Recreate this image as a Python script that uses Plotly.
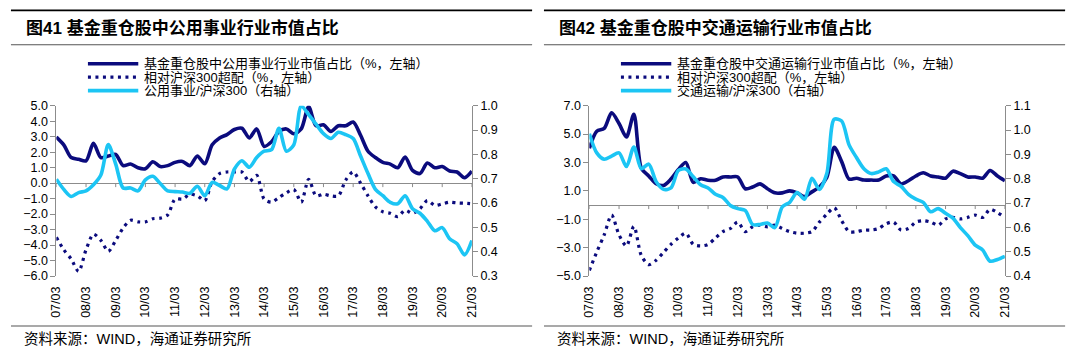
import plotly.graph_objects as go
import pandas as pd

# ---------------- data ----------------
quarters = [str(p) for p in pd.period_range("2007Q1", "2021Q1", freq="Q")]
tick_labels = ["07/03", "08/03", "09/03", "10/03", "11/03", "12/03", "13/03", "14/03",
               "15/03", "16/03", "17/03", "18/03", "19/03", "20/03", "21/03"]

util_share = [2.98, 2.47, 1.65, 1.54, 1.44, 2.57, 1.65, 1.75, 1.85, 1.13, 1.23, 0.99, 0.93, 1.38,
              1.07, 1.13, 1.34, 1.40, 1.13, 1.75, 1.25, 2.47, 2.92, 3.13, 3.46, 3.54, 2.92, 3.50,
              2.37, 2.67, 3.33, 3.50, 3.19, 3.50, 4.94, 3.70, 3.77, 3.33, 3.70, 3.70, 3.95, 3.09,
              2.06, 1.65, 1.34, 1.23, 0.99, 1.69, 0.82, 0.62, 1.30, 0.99, 1.07, 0.78, 0.72, 0.35, 0.78]
util_over = [-3.5, -4.3, -4.9, -5.7, -4.3, -3.3, -3.7, -4.4, -3.7, -2.9, -2.4, -2.5, -2.5, -2.3,
             -2.26, -2.06, -1.03, -1.03, -0.72, -0.82, -1.13, 0.1, 0.62, 0.72, 0.72, 0.72, 0.1, 0.5,
             -1.03, -1.23, -0.93, -0.62, -0.41, -1.23, 0.25, -0.82, -0.72, -0.82, -0.82, 0.2, 0.72, 0.0,
             -0.82, -1.54, -1.85, -1.95, -2.16, -1.75, -1.95, -1.65, -1.13, -1.44, -1.34, -1.23, -1.28,
             -1.30, -1.34]
util_ratio = [0.698, 0.656, 0.627, 0.643, 0.650, 0.675, 0.715, 0.840, 0.760, 0.662, 0.662, 0.650,
              0.695, 0.710, 0.680, 0.650, 0.647, 0.645, 0.640, 0.669, 0.630, 0.685, 0.672, 0.658,
              0.740, 0.774, 0.747, 0.787, 0.813, 0.819, 0.907, 0.813, 0.839, 0.999, 0.963, 0.924,
              0.885, 0.865, 0.891, 0.881, 0.865, 0.793, 0.721, 0.656, 0.630, 0.603, 0.597, 0.630,
              0.577, 0.558, 0.525, 0.486, 0.499, 0.453, 0.433, 0.387, 0.446]

trans_share = [4.0, 5.2, 5.4, 6.5, 5.75, 4.8, 6.4, 2.6, 2.05, 1.5, 1.38, 1.83, 2.5, 3.0, 1.6, 1.85,
               1.75, 1.75, 1.98, 1.98, 1.98, 1.15, 1.27, 1.49, 1.15, 0.86, 0.86, 1.0, 0.86, 0.6,
               0.93, 1.27, 1.94, 4.07, 3.06, 1.83, 1.89, 1.76, 1.76, 1.76, 2.05, 2.05, 1.49, 1.71,
               2.05, 2.28, 2.05, 1.98, 1.89, 2.39, 2.21, 1.98, 1.98, 1.89, 2.43, 2.05, 1.71]
trans_over = [-4.6, -3.3, -2.1, -0.7, -2.1, -2.88, -1.5, -3.55, -4.2, -3.89, -3.33, -2.77, -2.32,
              -1.98, -2.77, -2.88, -2.77, -2.32, -1.87, -1.65, -1.2, -1.87, -1.53, -1.42, -1.53,
              -1.42, -1.65, -1.87, -1.98, -1.98, -1.87, -1.2, -0.64, -0.19, -1.1, -1.87, -1.87,
              -1.76, -1.76, -1.65, -1.31, -1.2, -1.76, -1.65, -1.2, -1.1, -1.2, -1.42, -0.98,
              -0.87, -0.98, -0.87, -0.71, -0.87, -0.3, -0.53, -0.87]
trans_ratio = [0.985, 0.906, 0.880, 0.893, 0.906, 0.850, 0.930, 0.841, 0.860, 0.788, 0.756, 0.762,
               0.834, 0.840, 0.808, 0.775, 0.762, 0.736, 0.723, 0.690, 0.677, 0.670, 0.612, 0.612,
               0.618, 0.599, 0.684, 0.703, 0.743, 0.716, 0.802, 0.756, 0.821, 1.044, 1.037, 0.939,
               0.887, 0.841, 0.821, 0.828, 0.841, 0.788, 0.769, 0.736, 0.716, 0.703, 0.664, 0.677,
               0.658, 0.638, 0.599, 0.566, 0.527, 0.507, 0.461, 0.468, 0.481]

titles = ["图41 基金重仓股中公用事业行业市值占比", "图42 基金重仓股中交通运输行业市值占比"]
legend_names = [
    ["基金重仓股中公用事业行业市值占比（%，左轴）", "相对沪深300超配（%，左轴）", "公用事业/沪深300（右轴）"],
    ["基金重仓股中交通运输行业市值占比（%，左轴）", "相对沪深300超配（%，左轴）", "交通运输/沪深300（右轴）"],
]
source_text = "资料来源：WIND，海通证券研究所"

# ---------------- styling ----------------
W, H = 1080, 358
NAVY = "#0b0b7d"
CYAN = "#1cc5f4"
GREY = "#8c8c8c"
LAT = "Liberation Sans, Arial, Noto Sans CJK SC"
CJK = "Liberation Sans, Noto Sans CJK SC"
DOT = "3px,4.5px"


def fx(px):
    return px / W


def fy(py):
    return 1 - py / H


tickvals = [quarters[i] for i in range(0, len(quarters), 4)]
n_last = len(quarters) - 1

fig = go.Figure()

panels = [
    dict(x0=50, x1=471, share=util_share, over=util_over, ratio=util_ratio,
         lrange=[-6, 5], ldtick=1, ltick0=0, rrange=[0.3, 1.0], off=0),
    dict(x0=590, x1=1011, share=trans_share, over=trans_over, ratio=trans_ratio,
         lrange=[-5, 7], ldtick=2, ltick0=1, rrange=[0.4, 1.1], off=540),
]
PY0, PY1 = 102.7, 280.0

shapes = []
annotations = []
for k, p in enumerate(panels):
    xa = "x" if k == 0 else "x2"
    ya_l = "y" if k == 0 else "y3"
    ya_r = "y2" if k == 0 else "y4"
    fig.add_trace(go.Scatter(x=quarters, y=p["share"], xaxis=xa, yaxis=ya_l, mode="lines",
                             line=dict(color=NAVY, width=3.6, shape="spline", smoothing=0.8),
                             name=legend_names[k][0], showlegend=False, hoverinfo="skip"))
    fig.add_trace(go.Scatter(x=quarters, y=p["over"], xaxis=xa, yaxis=ya_l, mode="lines",
                             line=dict(color=NAVY, width=3.2, dash=DOT, shape="spline", smoothing=0.8),
                             name=legend_names[k][1], showlegend=False, hoverinfo="skip"))
    fig.add_trace(go.Scatter(x=quarters, y=p["ratio"], xaxis=xa, yaxis=ya_r, mode="lines",
                             line=dict(color=CYAN, width=3.6, shape="spline", smoothing=0.8),
                             name=legend_names[k][2], showlegend=False, hoverinfo="skip"))

    xdom = [fx(p["x0"]), fx(p["x1"])]
    ydom = [fy(PY1), fy(PY0)]
    xkey = "xaxis" if k == 0 else "xaxis2"
    ylkey = "yaxis" if k == 0 else "yaxis3"
    yrkey = "yaxis2" if k == 0 else "yaxis4"
    fig.update_layout(**{
        xkey: dict(domain=xdom, anchor=ya_l, type="category", range=[0, n_last],
                   tickvals=tickvals, ticktext=tick_labels, tickangle=-90,
                   showline=False, showgrid=False, zeroline=False, ticks="",
                   ticklabelstandoff=7,
                   tickfont=dict(family=LAT, size=12.5, color="#000000")),
        ylkey: dict(domain=ydom, anchor=xa, range=p["lrange"], dtick=p["ldtick"], tick0=p["ltick0"],
                    tickformat=".1f", showgrid=False, showline=True, linecolor=GREY, linewidth=1,
                    ticks="outside", ticklen=5, tickcolor=GREY, tickwidth=1,
                    zeroline=True, zerolinecolor=GREY, zerolinewidth=1,
                    tickfont=dict(family=LAT, size=12.5, color="#000000")),
        yrkey: dict(anchor=xa, overlaying=ya_l, side="right", range=p["rrange"], dtick=0.1,
                    tick0=0, tickformat=".1f", showgrid=False, showline=True, linecolor=GREY,
                    linewidth=1, ticks="outside", ticklen=5, tickcolor=GREY, tickwidth=1,
                    zeroline=False,
                    tickfont=dict(family=LAT, size=12.5, color="#000000")),
    })

    # tick marks on the zero line (category axis crossing at 0)
    for i in range(0, len(quarters), 4):
        shapes.append(dict(type="line", xref=xa, yref=ya_l, x0=i, x1=i, y0=0, y1=-4,
                           ysizemode="pixel", yanchor=0, line=dict(color=GREY, width=1),
                           layer="below"))

    off = p["off"]
    # top black rule, title, grey rule, bottom rule
    shapes.append(dict(type="line", xref="paper", yref="paper", x0=fx(off + 4), x1=fx(off + 532),
                       y0=fy(3.5), y1=fy(3.5), line=dict(color="#000000", width=1.6)))
    shapes.append(dict(type="line", xref="paper", yref="paper", x0=fx(off + 4), x1=fx(off + 532),
                       y0=fy(39.3), y1=fy(39.3), line=dict(color="#555555", width=1.2)))
    shapes.append(dict(type="line", xref="paper", yref="paper", x0=fx(off + 4), x1=fx(off + 532),
                       y0=fy(332), y1=fy(332), line=dict(color="#555555", width=1.2)))
    annotations.append(dict(text="<b>" + titles[k] + "</b>", xref="paper", yref="paper",
                            x=fx(off + 17), y=fy(21.5), xanchor="left", yanchor="middle",
                            showarrow=False, font=dict(family=CJK, size=17, color="#000000")))
    annotations.append(dict(text=source_text, xref="paper", yref="paper",
                            x=fx(off + 15), y=fy(346), xanchor="left", yanchor="middle",
                            showarrow=False, font=dict(family=CJK, size=14.5, color="#000000")))

    # legend
    rows = [59, 73, 87]
    styles = [dict(color=NAVY, width=3.6), dict(color=NAVY, width=3.2, dash=DOT),
              dict(color=CYAN, width=3.6)]
    for r, (ry, st) in enumerate(zip(rows, styles)):
        shapes.append(dict(type="line", xref="paper", yref="paper", x0=fx(off + 82), x1=fx(off + 133),
                           y0=fy(ry), y1=fy(ry), line=st))
        annotations.append(dict(text=legend_names[k][r], xref="paper", yref="paper",
                                x=fx(off + 137), y=fy(ry), xanchor="left", yanchor="middle",
                                showarrow=False, font=dict(family=CJK, size=13, color="#000000")))

fig.update_layout(autosize=True,
                  margin=dict(l=0, r=0, t=0, b=0, pad=0),
                  paper_bgcolor="#ffffff", plot_bgcolor="#ffffff",
                  showlegend=False, shapes=shapes, annotations=annotations,
                  hovermode=False)

fig.write_html("out.html", config={"displayModeBar": False},
               default_width=f"{W}px",
               default_height=f"{H}px;position:absolute;left:0;top:0")
